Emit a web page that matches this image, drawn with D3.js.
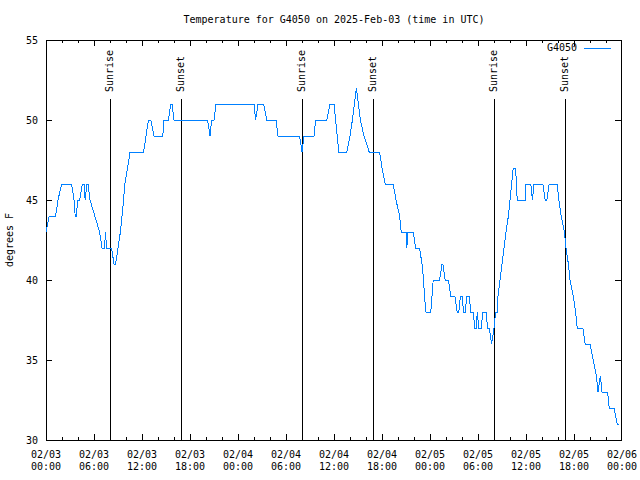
<!DOCTYPE html>
<html>
<head>
<meta charset="utf-8">
<script src="https://cdn.jsdelivr.net/npm/d3@7"></script>
<style>
    body { margin: 0; background: #fff; }
    text { font-family: "DejaVu Sans Mono", monospace; font-size: 10px; fill: #000; }
</style>
</head>
<body>
<div id="chart"></div>
<script>
// hours since 2025-02-03 00:00 UTC and temperature in F
var startTime = "2025-02-03T00:00:00Z";
var hours = [0, 0.4, 1.2, 1.5, 1.95, 3.2, 3.5, 3.65, 3.8, 3.95, 4.2, 4.55, 4.75, 4.9, 5.1, 5.25, 5.5, 6.1, 6.7, 7.0,
    7.3, 7.45, 7.55, 8.2, 8.5, 8.7, 9.0, 9.3, 9.5, 9.7, 9.85, 10.2, 10.5, 12.2, 12.5, 12.8, 13.1, 13.5, 14.6, 14.75,
    15.3, 15.6, 15.75, 16.0, 20.2, 20.5, 20.7, 21.0, 21.25, 26.0, 26.2, 26.5, 27.2, 27.6, 28.75, 29.0, 31.7, 32.0, 32.25, 33.5,
    33.7, 35.1, 35.5, 36.0, 36.2, 36.6, 37.6, 38.0, 38.3, 38.55, 38.8, 39.05, 39.3, 39.75, 40.4, 41.7, 42.0, 42.4, 43.4, 43.75,
    44.2, 44.4, 45.0, 45.1, 45.25, 45.9, 46.2, 46.7, 47.0, 47.2, 47.3, 47.5, 48.1, 48.25, 48.4, 49.2, 49.5, 49.6, 49.9, 50.3,
    50.6, 51.1, 51.4, 51.6, 51.8, 52.0, 52.2, 52.4, 52.6, 52.9, 53.1, 53.4, 53.6, 53.8, 53.9, 54.1, 54.4, 54.6, 55.0, 55.2,
    55.4, 55.7, 56.0, 56.2, 56.4, 56.5, 56.75, 57.0, 57.25, 57.5, 57.8, 58.0, 58.2, 58.4, 58.7, 58.8, 58.9, 59.9, 60.0, 60.6,
    60.8, 61.0, 62.1, 62.4, 62.6, 62.9, 63.9, 64.1, 64.4, 64.8, 65.0, 65.3, 65.5, 65.9, 66.2, 66.4, 67.1, 67.4, 68.0, 68.4,
    68.8, 69.0, 69.3, 69.5, 70.2, 70.4, 71.0, 71.4, 71.6];
var temps = [43, 44, 44, 45, 46, 46, 45, 44, 44, 45, 45, 46, 46, 45, 46, 46, 45, 44, 43, 42,
    42, 43, 42, 42, 41, 41, 42, 43, 44, 45, 46, 47, 48, 48, 49, 50, 50, 49, 49, 50,
    50, 51, 51, 50, 50, 49, 50, 50, 51, 51, 50, 51, 51, 50, 50, 49, 49, 48, 49, 49,
    50, 50, 51, 51, 50, 48, 48, 49, 50, 51, 52, 51, 50, 49, 48, 48, 47, 46, 46, 45,
    44, 43, 43, 42, 43, 43, 42, 42, 41, 40, 39, 38, 38, 39, 40, 40, 41, 41, 40, 40,
    39, 39, 38, 38, 39, 39, 38, 38, 39, 39, 38, 38, 37, 37, 38, 37, 37, 38, 38, 37,
    37, 36, 37, 38, 38, 39, 40, 41, 42, 43, 44, 45, 46, 47, 47, 46, 45, 45, 46, 46,
    45, 46, 46, 45, 45, 46, 46, 45, 44, 43, 42, 41, 40, 39, 38, 37, 37, 36, 36, 35,
    34, 33, 34, 33, 33, 32, 32, 31, 31];

var sunLabels = ["Sunrise", "Sunset", "Sunrise", "Sunset", "Sunrise", "Sunset"];
var sunHours = [8.04, 16.91, 32.04, 40.91, 56.04, 64.91];
var yTicks = [30, 35, 40, 45, 50, 55];

var width = 640,
    height = 480,
    plotLeft = 46,
    plotRight = 622,
    plotTop = 40,
    plotBottom = 440;

var t0 = new Date(startTime);
var t1 = d3.utcHour.offset(t0, 72);
function toDate(h) { return new Date(t0.getTime() + h * 3600e3); }

var data = hours.map(function(h, i) {
    return { date: toDate(h), temp: temps[i] };
});

var x = d3.scaleUtc().domain([t0, t1]).range([plotLeft, plotRight]);
var y = d3.scaleLinear().domain([30, 55]).range([plotBottom, plotTop]);

var svg = d3.select("#chart").append("svg")
    .attr("width", width)
    .attr("height", height);

// title
svg.append("text")
    .attr("x", (plotLeft + plotRight) / 2)
    .attr("y", 20)
    .attr("text-anchor", "middle")
    .attr("dominant-baseline", "middle")
    .text("Temperature for G4050 on 2025-Feb-03 (time in UTC)");

// inner tick marks (the frame covers the two ends)
var minorTicks = d3.utcHour.every(2).range(d3.utcHour.offset(t0, 1), t1);
var majorTicks = d3.utcHour.every(6).range(d3.utcHour.offset(t0, 1), t1);
var labelTicks = d3.utcHour.every(6).range(t0, d3.utcHour.offset(t1, 1));

function styleAxis(g) {
    g.select(".domain").remove();
    g.selectAll(".tick line").attr("stroke", "#000").attr("shape-rendering", "crispEdges");
    g.selectAll("text").attr("font-family", null).attr("font-size", null);
}

svg.append("g")
    .attr("transform", "translate(0," + plotBottom + ")")
    .call(d3.axisBottom(x).tickValues(minorTicks).tickSize(-3).tickFormat(""))
    .call(styleAxis);

svg.append("g")
    .attr("transform", "translate(0," + plotBottom + ")")
    .call(d3.axisBottom(x).tickValues(majorTicks).tickSize(-6).tickFormat(""))
    .call(styleAxis);

svg.append("g")
    .attr("transform", "translate(0," + plotTop + ")")
    .call(d3.axisTop(x).tickValues(minorTicks).tickSize(-3).tickFormat(""))
    .call(styleAxis);

svg.append("g")
    .attr("transform", "translate(0," + plotTop + ")")
    .call(d3.axisTop(x).tickValues(majorTicks).tickSize(-6).tickFormat(""))
    .call(styleAxis);

var fmtDay = d3.utcFormat("%m/%d"),
    fmtHour = d3.utcFormat("%H:%M");

svg.append("g")
    .selectAll("text").data(labelTicks)
    .enter().append("text")
    .attr("text-anchor", "middle")
    .each(function(d) {
        var t = d3.select(this);
        t.append("tspan").attr("x", x(d)).attr("y", plotBottom + 18).text(fmtDay(d));
        t.append("tspan").attr("x", x(d)).attr("y", plotBottom + 30).text(fmtHour(d));
    });

svg.append("g")
    .attr("transform", "translate(" + plotLeft + ",0)")
    .call(d3.axisLeft(y).tickValues(yTicks).tickSize(-6).tickPadding(8))
    .call(styleAxis);

svg.append("g")
    .attr("transform", "translate(" + (plotRight - 1) + ",0)")
    .call(d3.axisRight(y).tickValues(yTicks).tickSize(-6).tickFormat(""))
    .call(styleAxis);

// frame
svg.append("rect")
    .attr("x", plotLeft)
    .attr("y", plotTop)
    .attr("width", plotRight - plotLeft - 1)
    .attr("height", plotBottom - plotTop)
    .attr("fill", "none")
    .attr("stroke", "#000")
    .attr("shape-rendering", "crispEdges");

// y label
svg.append("text")
    .attr("transform", "translate(10," + ((plotTop + plotBottom) / 2) + ") rotate(-90)")
    .attr("text-anchor", "middle")
    .attr("dominant-baseline", "middle")
    .text("degrees F");

// sunrise / sunset markers
var sun = svg.selectAll("g.sun").data(sunHours)
    .enter().append("g")
    .attr("class", "sun")
    .attr("transform", function(d) { return "translate(" + Math.round(x(toDate(d))) + ",0)"; });

sun.append("line")
    .attr("y1", 99)
    .attr("y2", plotBottom)
    .attr("stroke", "#000")
    .attr("shape-rendering", "crispEdges");

sun.append("text")
    .attr("transform", "translate(0,92) rotate(-90)")
    .attr("text-anchor", "start")
    .attr("dominant-baseline", "middle")
    .text(function(d, i) { return sunLabels[i]; });

// temperature line
var line = d3.line()
    .x(function(d) { return x(d.date); })
    .y(function(d) { return y(d.temp); });

svg.append("path")
    .datum(data)
    .attr("fill", "none")
    .attr("stroke", "#0080ff")
    .attr("stroke-width", 1)
    .attr("shape-rendering", "crispEdges")
    .attr("d", line);

// legend
svg.append("text")
    .attr("x", 577)
    .attr("y", 48)
    .attr("text-anchor", "end")
    .attr("dominant-baseline", "middle")
    .text("G4050");

svg.append("line")
    .attr("x1", 584)
    .attr("x2", 611)
    .attr("y1", 48)
    .attr("y2", 48)
    .attr("stroke", "#0080ff")
    .attr("shape-rendering", "crispEdges");
</script>
</body>
</html>
